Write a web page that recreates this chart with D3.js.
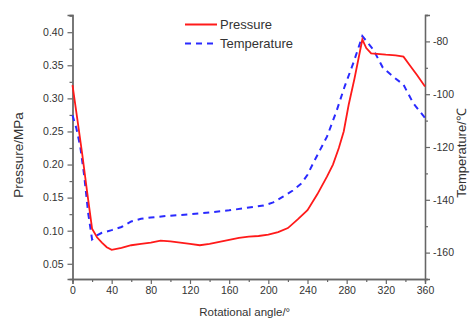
<!DOCTYPE html>
<html>
<head>
<meta charset="utf-8">
<script src="https://cdn.jsdelivr.net/npm/d3@7"></script>
<style>
  html, body { margin: 0; padding: 0; background: #fff; }
  svg { display: block; font-family: Arial, "Liberation Sans", sans-serif; }
</style>
</head>
<body>
<svg id="chart" width="470" height="321"></svg>
<script>
// ---- data ----
const pressureAngles = [0, 5, 10, 15, 20, 25, 30, 35, 40, 50, 60, 70, 80, 90, 100, 110, 120, 130, 140, 150, 160, 170, 180, 190, 200, 210, 220, 230, 240, 250, 260, 266, 272, 277, 282, 288, 296, 300, 305, 320, 330, 338, 345, 352, 360];
const pressureValues = [0.320, 0.268, 0.215, 0.158, 0.103, 0.090, 0.082, 0.075, 0.071, 0.074, 0.078, 0.080, 0.082, 0.085, 0.084, 0.082, 0.080, 0.078, 0.080, 0.083, 0.086, 0.089, 0.091, 0.092, 0.094, 0.098, 0.104, 0.117, 0.131, 0.155, 0.182, 0.200, 0.225, 0.250, 0.290, 0.330, 0.389, 0.376, 0.368, 0.366, 0.365, 0.363, 0.349, 0.335, 0.318];

const temperatureAngles = [0, 4, 8, 12, 16, 20, 25, 30, 40, 50, 60, 70, 80, 100, 120, 140, 160, 175, 195, 205, 215, 225, 234, 240, 246, 253, 260, 270, 278, 287, 296, 307, 317, 328, 338, 348, 360];
const temperatureValues = [-108, -113, -120, -131, -145, -155, -153.5, -152.5, -151.5, -150.3, -148.2, -147.2, -146.7, -146, -145.5, -144.8, -144, -143.2, -142.2, -141, -138.8, -136.5, -133.7, -130.5, -126, -121, -116, -106, -97, -88, -78, -83, -90, -93.5, -96.4, -103.4, -109];

const angleTicks = [0, 40, 80, 120, 160, 200, 240, 280, 320, 360];
const angleMinorTicks = [20, 60, 100, 140, 180, 220, 260, 300, 340];
const pressureTicks = [0.05, 0.10, 0.15, 0.20, 0.25, 0.30, 0.35, 0.40];
const pressureMinorTicks = [0.075, 0.125, 0.175, 0.225, 0.275, 0.325, 0.375, 0.425];
const temperatureTicks = [-160, -140, -120, -100, -80];
const temperatureMinorTicks = [-170, -150, -130, -110, -90, -70];

const seriesNames = ["Pressure", "Temperature"];
const xTitle = "Rotational angle/°";
const yLeftTitle = "Pressure/MPa";
const yRightTitle = "Temperature/℃";

// ---- layout ----
const svg = d3.select("#chart");
const plotLeft = 72.5, plotRight = 425, plotTop = 15, plotBottom = 279;
const axisColor = "#666";
const textColor = "#333";

const x = d3.scaleLinear().domain([0, 360]).range([plotLeft, plotRight]);
const yP = d3.scaleLinear().domain([0.027, 0.426]).range([plotBottom, plotTop]);
const yT = d3.scaleLinear().domain([-170, -70]).range([plotBottom, plotTop]);

function styleAxis(g) {
  g.selectAll("path.domain").attr("stroke", axisColor).attr("stroke-width", 1.3);
  g.selectAll(".tick line").attr("stroke", axisColor).attr("stroke-width", 1.2);
  g.selectAll(".tick text").attr("fill", textColor).attr("font-size", "10.5px");
}

// bottom axis
svg.append("g").attr("transform", `translate(0,${plotBottom})`)
  .call(d3.axisBottom(x).tickValues(angleMinorTicks).tickSize(3).tickFormat(""))
  .call(styleAxis);
svg.append("g").attr("transform", `translate(0,${plotBottom})`)
  .call(d3.axisBottom(x).tickValues(angleTicks).tickSize(5).tickPadding(3).tickFormat(d => String(d)))
  .call(styleAxis);

// left axis
svg.append("g").attr("transform", `translate(${plotLeft},0)`)
  .call(d3.axisLeft(yP).tickValues(pressureMinorTicks).tickSize(3).tickFormat(""))
  .call(styleAxis);
svg.append("g").attr("transform", `translate(${plotLeft},0)`)
  .call(d3.axisLeft(yP).tickValues(pressureTicks).tickSize(5).tickPadding(4).tickFormat(d3.format(".2f")))
  .call(styleAxis);

// right axis
svg.append("g").attr("transform", `translate(${plotRight},0)`)
  .call(d3.axisRight(yT).tickValues(temperatureMinorTicks).tickSize(3).tickFormat(""))
  .call(styleAxis);
svg.append("g").attr("transform", `translate(${plotRight},0)`)
  .call(d3.axisRight(yT).tickValues(temperatureTicks).tickSize(5).tickPadding(3).tickFormat(d => String(d)))
  .call(styleAxis);

// lines
const pData = pressureAngles.map((a, i) => [a, pressureValues[i]]);
const tData = temperatureAngles.map((a, i) => [a, temperatureValues[i]]);

svg.append("path").datum(tData)
  .attr("fill", "none").attr("stroke", "#2a2aff").attr("stroke-width", 2)
  .attr("stroke-dasharray", "6,5")
  .attr("d", d3.line().x(d => x(d[0])).y(d => yT(d[1])));

svg.append("path").datum(pData)
  .attr("fill", "none").attr("stroke", "#ff1a1a").attr("stroke-width", 1.8)
  .attr("d", d3.line().x(d => x(d[0])).y(d => yP(d[1])));

// legend
const legend = svg.append("g");
const legItems = [
  { name: seriesNames[0], color: "#ff1a1a", dash: null, y: 24.5 },
  { name: seriesNames[1], color: "#2a2aff", dash: "6,5", y: 43.5 }
];
legItems.forEach(it => {
  legend.append("line").attr("x1", 185).attr("x2", 217).attr("y1", it.y).attr("y2", it.y)
    .attr("stroke", it.color).attr("stroke-width", 2).attr("stroke-dasharray", it.dash);
  legend.append("text").attr("x", 220).attr("y", it.y).attr("dy", "0.35em")
    .attr("font-size", "13px").attr("fill", textColor).text(it.name);
});

// axis titles
svg.append("text").attr("x", (plotLeft + plotRight) / 2 - 4).attr("y", 316)
  .attr("text-anchor", "middle").attr("font-size", "11.5px").attr("fill", textColor)
  .text(xTitle);
svg.append("text").attr("transform", "translate(23,155) rotate(-90)")
  .attr("text-anchor", "middle").attr("font-size", "13.5px").attr("fill", textColor)
  .text(yLeftTitle);
svg.append("text").attr("transform", "translate(466,153) rotate(-90)")
  .attr("text-anchor", "middle").attr("font-size", "13px").attr("fill", textColor)
  .text(yRightTitle);
</script>
</body>
</html>
